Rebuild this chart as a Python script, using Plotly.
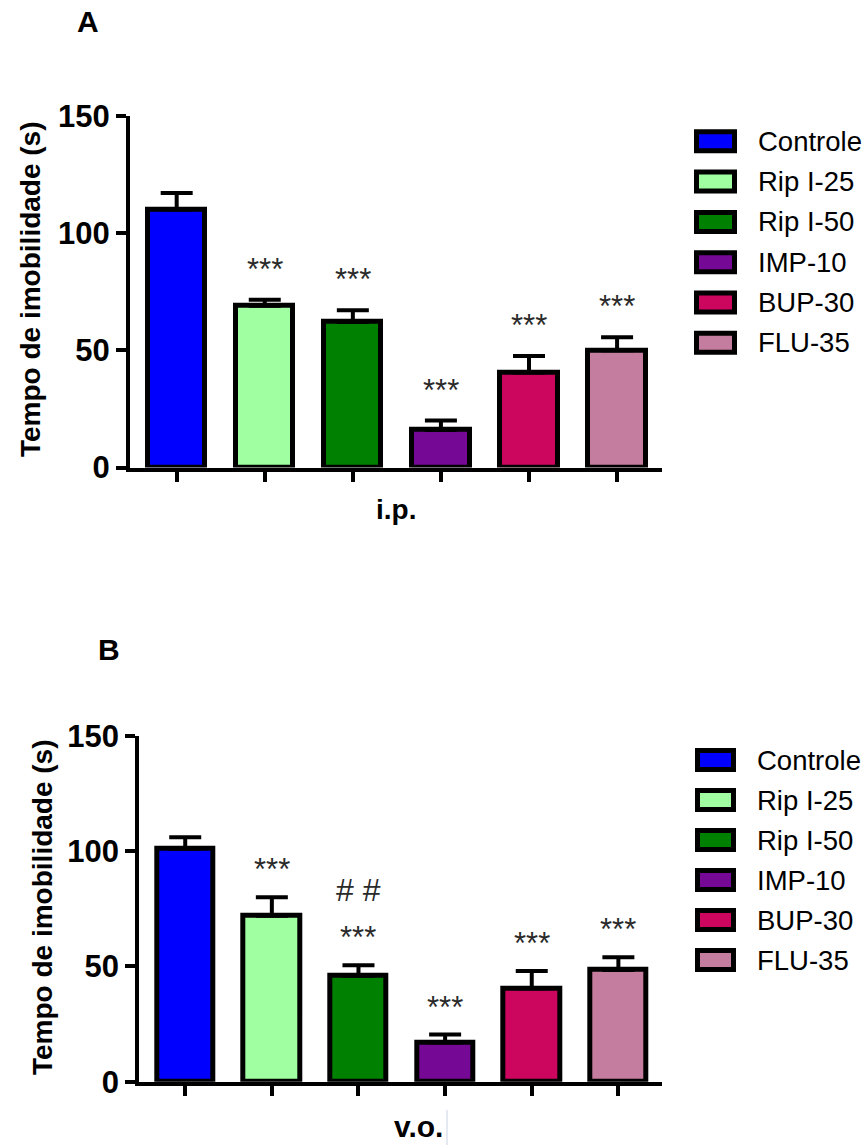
import plotly.graph_objects as go

# ---------------- data ----------------
groups = ["Controle", "Rip I-25", "Rip I-50", "IMP-10", "BUP-30", "FLU-35"]
colors = ["#0000FF", "#A0FFA0", "#008000", "#760896", "#CC055F", "#C47D9E"]

ip_mean = [110, 69, 62, 16, 40.5, 50]
ip_sem = [7, 2.5, 5, 4, 7, 5.5]
ip_sig = ["", "***", "***", "***", "***", "***"]

vo_mean = [101, 72, 46, 17, 40.5, 48.5]
vo_sem = [5, 8, 4.5, 3.5, 7.5, 5.5]
vo_sig = ["", "***", "***", "***", "***", "***"]
vo_sig2 = ["", "", "# #", "", "", ""]

y_ticks = [0, 50, 100, 150]
ytitle = "Tempo de imobilidade (s)"

W, H = 868, 1145
FONT = "Arial, Liberation Sans, sans-serif"


def fx(p):
    return p / W


def fy(p):
    return 1 - p / H


xs = list(range(len(groups)))
fig = go.Figure()


def add_panel(mean, sem, xa, ya):
    fig.add_trace(go.Bar(
        x=xs, y=mean, width=0.65,
        marker=dict(color=colors, line=dict(color="black", width=5)),
        error_y=dict(type="data", array=sem, arrayminus=[0] * len(sem),
                     symmetric=False, color="black", thickness=4, width=16),
        xaxis=xa, yaxis=ya, showlegend=False, hoverinfo="skip",
    ))


add_panel(ip_mean, ip_sem, "x", "y")
add_panel(vo_mean, vo_sem, "x2", "y2")

axis_common = dict(showline=True, linecolor="black", linewidth=4, ticks="outside",
                   ticklen=10, tickwidth=3.5, tickcolor="black", showgrid=False,
                   zeroline=False, automargin=False)

fig.update_layout(
    template="none",
    width=W, height=H, margin=dict(l=0, r=0, t=0, b=0, pad=0, autoexpand=False),
    plot_bgcolor="white", paper_bgcolor="white", bargap=0, showlegend=False,
    xaxis=dict(domain=[fx(130), fx(662)], range=[-0.53, 5.51], tickvals=xs,
               showticklabels=False, anchor="y", **axis_common),
    yaxis=dict(domain=[fy(467.5), fy(115.7)], range=[0, 150], tickvals=y_ticks,
               anchor="x", tickfont=dict(family=FONT, size=31, color="black", weight="bold"),
               **axis_common),
    xaxis2=dict(domain=[fx(139.3), fx(661.7)], range=[-0.53, 5.5], tickvals=xs,
                showticklabels=False, anchor="y2", **axis_common),
    yaxis2=dict(domain=[fy(1081.8), fy(735.7)], range=[0, 150], tickvals=y_ticks,
                anchor="x2", tickfont=dict(family=FONT, size=31, color="black", weight="bold"),
                **axis_common),
)

SIG_FONT = dict(family=FONT, size=31, color="#2a2a2a")
ann = []
# significance marks
for i in xs:
    if ip_sig[i]:
        ann.append(dict(x=i, y=ip_mean[i] + ip_sem[i], xref="x", yref="y", text=ip_sig[i],
                        showarrow=False, yanchor="bottom", yshift=11, font=SIG_FONT))
    if vo_sig[i]:
        ann.append(dict(x=i, y=vo_mean[i] + vo_sem[i], xref="x2", yref="y2", text=vo_sig[i],
                        showarrow=False, yanchor="bottom", yshift=8, font=SIG_FONT))
    if vo_sig2[i]:
        ann.append(dict(x=i, y=vo_mean[i] + vo_sem[i], xref="x2", yref="y2", text=vo_sig2[i],
                        showarrow=False, yanchor="bottom", yshift=55,
                        font=dict(family=FONT, size=32, color="#2a2a2a")))

# axis titles / labels
ann.append(dict(x=fx(30), y=fy(289), xref="paper", yref="paper", text=ytitle, textangle=-90,
                showarrow=False, xanchor="center", yanchor="middle",
                font=dict(family=FONT, size=28, color="black", weight="bold")))
ann.append(dict(x=fx(42), y=fy(907), xref="paper", yref="paper", text=ytitle, textangle=-90,
                showarrow=False, xanchor="center", yanchor="middle",
                font=dict(family=FONT, size=28, color="black", weight="bold")))
ann.append(dict(x=fx(396), y=fy(510), xref="paper", yref="paper", text="i.p.",
                showarrow=False, xanchor="center", yanchor="middle",
                font=dict(family=FONT, size=28, color="black", weight="bold")))
ann.append(dict(x=fx(418), y=fy(1126), xref="paper", yref="paper", text="v.o.",
                showarrow=False, xanchor="center", yanchor="middle",
                font=dict(family=FONT, size=30, color="black", weight="bold")))
ann.append(dict(x=fx(88), y=fy(22), xref="paper", yref="paper", text="A",
                showarrow=False, xanchor="center", yanchor="middle",
                font=dict(family=FONT, size=30, color="black", weight="bold")))
ann.append(dict(x=fx(108.5), y=fy(649), xref="paper", yref="paper", text="B",
                showarrow=False, xanchor="center", yanchor="middle",
                font=dict(family=FONT, size=30, color="black", weight="bold")))

shapes = []
# legends
for x0, x1, y0, step, tx in [(696.5, 734.5, 141.3, 40.3, 756), (697.5, 733.5, 760, 40, 755)]:
    for k, (g, c) in enumerate(zip(groups, colors)):
        cy = y0 + k * step
        shapes.append(dict(type="rect", xref="paper", yref="paper",
                           x0=fx(x0), x1=fx(x1), y0=fy(cy + 9.5), y1=fy(cy - 9.5),
                           fillcolor=c, line=dict(color="black", width=5)))
        ann.append(dict(x=fx(tx), y=fy(cy), xref="paper", yref="paper", text=g,
                        showarrow=False, xanchor="left", yanchor="middle",
                        font=dict(family=FONT, size=27.5, color="black")))

# faint scan artifact line near "v.o."
shapes.append(dict(type="line", xref="paper", yref="paper", x0=fx(447), x1=fx(447),
                   y0=fy(1145), y1=fy(1110), line=dict(color="#c9d3e6", width=1)))

fig.update_layout(annotations=ann, shapes=shapes)
fig.write_html("out.html")
